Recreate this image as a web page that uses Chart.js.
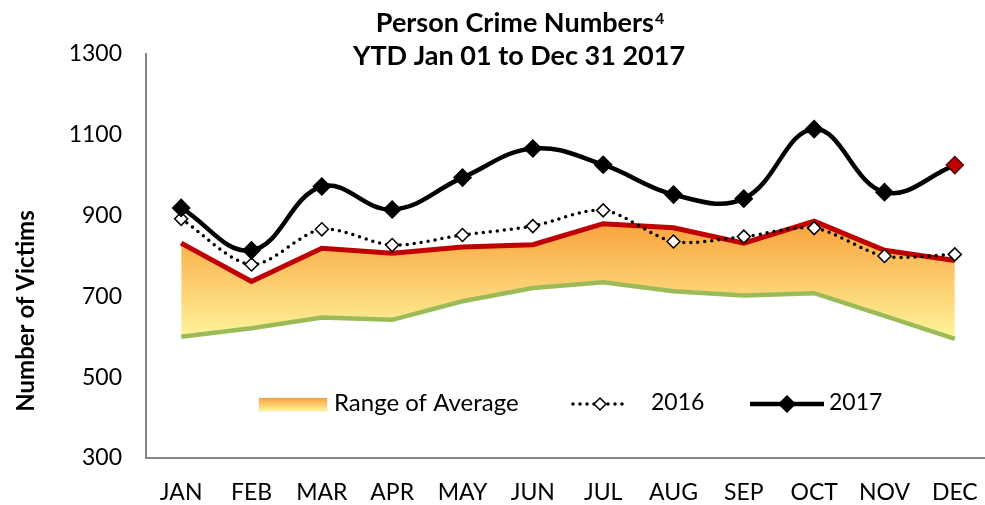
<!DOCTYPE html>
<html>
<head>
<meta charset="utf-8">
<script src="https://cdn.jsdelivr.net/npm/chart.js@4"></script>
<style>
  html, body { margin: 0; padding: 0; background: #ffffff; overflow: hidden; }
  #wrap { width: 1000px; height: 505px; }
</style>
</head>
<body>
<div id="wrap"><canvas id="crimeChart" width="1000" height="505"></canvas></div>
<script>
const months = ["JAN", "FEB", "MAR", "APR", "MAY", "JUN", "JUL", "AUG", "SEP", "OCT", "NOV", "DEC"];
const victims2017 = [919, 814, 972, 915, 994, 1066, 1026, 952, 942, 1114, 958, 1025];
const victims2016 = [892, 779, 866, 827, 852, 874, 913, 836, 848, 869, 800, 804];
const rangeHigh = [832, 737, 819, 807, 822, 828, 880, 870, 832, 886, 814, 789];
const rangeLow = [600, 621, 648, 642, 688, 721, 735, 713, 702, 708, 652, 595];
const yTicks = [300, 500, 700, 900, 1100, 1300];

const titleLines = ["Person Crime Numbers", "YTD Jan 01 to Dec 31 2017"];
const titleNote = "4";
const yTitle = "Number of Victims";
const legendLabels = ["Range of Average", "2016", "2017"];

const FONT = "Lato, 'Open Sans', sans-serif";
const COLORS = {
  red: "#c00000",
  green: "#9bbb59",
  black: "#000000",
  axis: "#868686",
  orange: "#f9a23c",
  yellow: "#fff59c"
};

function rangeGradient(ctx, top, bottom) {
  const g = ctx.createLinearGradient(0, top, 0, bottom);
  g.addColorStop(0, COLORS.orange);
  g.addColorStop(1, COLORS.yellow);
  return g;
}

function drawDiamond(ctx, x, y, r, fill, stroke, lw) {
  ctx.beginPath();
  ctx.moveTo(x, y - r);
  ctx.lineTo(x + r, y);
  ctx.lineTo(x, y + r);
  ctx.lineTo(x - r, y);
  ctx.closePath();
  ctx.fillStyle = fill;
  ctx.fill();
  ctx.lineWidth = lw;
  ctx.strokeStyle = stroke;
  ctx.stroke();
}

const textPlugin = {
  id: "textPlugin",
  afterDraw: function (chart) {
    const ctx = chart.ctx;
    ctx.save();

    // title, two lines with a small superscript note
    ctx.fillStyle = "#000";
    ctx.textBaseline = "alphabetic";
    ctx.font = "bold 27px " + FONT;
    const w1 = ctx.measureText(titleLines[0]).width;
    ctx.font = "bold 16px " + FONT;
    const wn = ctx.measureText(titleNote).width;
    const x1 = 520 - (w1 + wn + 1) / 2;
    ctx.font = "bold 27px " + FONT;
    ctx.textAlign = "left";
    ctx.fillText(titleLines[0], x1, 32);
    ctx.font = "bold 16px " + FONT;
    ctx.fillText(titleNote, x1 + w1 + 1, 24);
    ctx.font = "bold 27px " + FONT;
    ctx.textAlign = "center";
    ctx.fillText(titleLines[1], 519, 65);

    // y axis title
    ctx.save();
    ctx.translate(26, 311);
    ctx.rotate(-Math.PI / 2);
    ctx.font = "bold 24px " + FONT;
    ctx.textAlign = "center";
    ctx.textBaseline = "middle";
    ctx.fillText(yTitle, 0, 0);
    ctx.restore();

    // legend
    const ly = 403;
    ctx.fillStyle = rangeGradient(ctx, 398, 411);
    ctx.fillRect(258, 398, 69, 13);
    ctx.strokeStyle = "#f3f3f3";
    ctx.lineWidth = 1;
    ctx.strokeRect(258.5, 397.5, 69, 14);

    ctx.font = "24px " + FONT;
    ctx.fillStyle = "#000";
    ctx.textAlign = "left";
    ctx.textBaseline = "middle";
    ctx.fillText(legendLabels[0], 334, ly);

    ctx.save();
    ctx.setLineDash([0, 7]);
    ctx.lineCap = "round";
    ctx.lineWidth = 3.5;
    ctx.strokeStyle = "#000";
    ctx.beginPath();
    ctx.moveTo(573, ly + 1);
    ctx.lineTo(628, ly + 1);
    ctx.stroke();
    ctx.restore();
    drawDiamond(ctx, 600, ly + 1, 6, "#fff", "#000", 1.5);
    ctx.fillStyle = "#000";
    ctx.font = "23px " + FONT;
    ctx.fillText(legendLabels[1], 651, ly);

    ctx.lineWidth = 4.5;
    ctx.strokeStyle = "#000";
    ctx.beginPath();
    ctx.moveTo(750, ly + 1);
    ctx.lineTo(824, ly + 1);
    ctx.stroke();
    drawDiamond(ctx, 787, ly + 1, 8, "#000", "#000", 1.5);
    ctx.fillStyle = "#000";
    ctx.fillText(legendLabels[2], 829, ly);

    ctx.restore();
  }
};

const pointColors2017 = victims2017.map(function (v, i) {
  return i === victims2017.length - 1 ? COLORS.red : COLORS.black;
});
const pointBorders2017 = victims2017.map(function (v, i) {
  return i === victims2017.length - 1 ? "#5a0000" : COLORS.black;
});

new Chart(document.getElementById("crimeChart"), {
  type: "line",
  data: {
    labels: months,
    datasets: [
      {
        label: "Range low",
        data: rangeLow,
        borderColor: COLORS.green,
        borderWidth: 4.5,
        pointRadius: 0,
        tension: 0,
        fill: false,
        order: 3
      },
      {
        label: legendLabels[0],
        data: rangeHigh,
        borderColor: COLORS.red,
        borderWidth: 5,
        pointRadius: 0,
        tension: 0,
        fill: 0,
        backgroundColor: function (context) {
          const chart = context.chart;
          if (!chart.chartArea) {
            return COLORS.orange;
          }
          const y = chart.scales.y;
          return rangeGradient(chart.ctx,
            y.getPixelForValue(Math.max.apply(null, rangeHigh)),
            y.getPixelForValue(Math.min.apply(null, rangeLow)));
        },
        order: 2
      },
      {
        label: legendLabels[1],
        data: victims2016,
        borderColor: COLORS.black,
        borderWidth: 3.5,
        borderDash: [0, 7],
        borderCapStyle: "round",
        tension: 0.3,
        pointStyle: "rectRot",
        pointRadius: 6.5,
        pointBackgroundColor: "#ffffff",
        pointBorderColor: COLORS.black,
        pointBorderWidth: 1.5,
        fill: false,
        order: 1
      },
      {
        label: legendLabels[2],
        data: victims2017,
        borderColor: COLORS.black,
        borderWidth: 4.5,
        tension: 0.4,
        pointStyle: "rectRot",
        pointRadius: 8.5,
        pointBackgroundColor: pointColors2017,
        pointBorderColor: pointBorders2017,
        pointBorderWidth: 1.5,
        fill: false,
        order: 0
      }
    ]
  },
  options: {
    responsive: false,
    animation: false,
    events: [],
    layout: {
      padding: { left: 0, right: 2, top: 54, bottom: 0 }
    },
    plugins: {
      legend: { display: false },
      title: { display: false },
      tooltip: { enabled: false },
      filler: { drawTime: "beforeDatasetsDraw" }
    },
    scales: {
      x: {
        offset: true,
        grid: { display: false, drawTicks: false },
        border: { display: true, color: COLORS.axis, width: 2 },
        ticks: {
          color: "#000",
          padding: 21,
          maxRotation: 0,
          font: { family: FONT, size: 23 }
        },
        afterFit: function (scale) {
          scale.height = 47;
        }
      },
      y: {
        min: 300,
        max: 1300,
        grid: { display: false, drawTicks: false },
        border: { display: true, color: COLORS.axis, width: 2 },
        afterBuildTicks: function (scale) {
          scale.ticks = yTicks.map(function (v) {
            return { value: v };
          });
        },
        ticks: {
          color: "#000",
          padding: 24,
          font: { family: FONT, size: 23 },
          callback: function (value) {
            return String(value);
          }
        },
        afterFit: function (scale) {
          scale.width = 146;
        }
      }
    }
  },
  plugins: [textPlugin]
});
</script>
</body>
</html>
